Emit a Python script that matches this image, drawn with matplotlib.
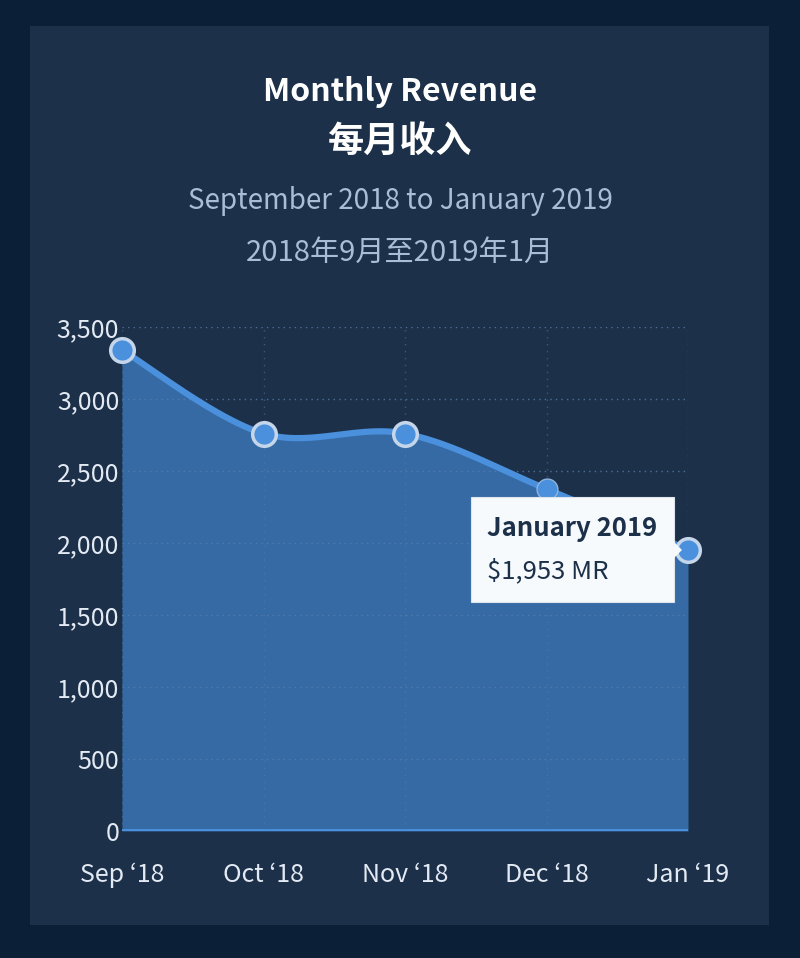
import numpy as np
import matplotlib
matplotlib.use("Agg")
import matplotlib.pyplot as plt
from matplotlib.patches import Rectangle, Polygon

plt.rcParams['font.family'] = ['Noto Sans CJK SC', 'DejaVu Sans']

# data
months = ["Sep \u02bb18", "Oct \u02bb18", "Nov \u02bb18", "Dec \u02bb18", "Jan \u02bb19"]
revenue = [3340, 2760, 2760, 2375, 1953]
y_ticks = [0, 500, 1000, 1500, 2000, 2500, 3000, 3500]

title_en = "Monthly Revenue"
title_zh = "每月收入"
sub_en = "September 2018 to January 2019"
sub_zh = "2018年9月至2019年1月"
tip_title = "January 2019"
tip_value = "$1,953 MR"

outer_bg = '#0b1f37'
panel_bg = '#1c3049'
fill_col = '#356aa5'
line_col = '#4a90dc'
edge_col = '#c6d6ea'
grid_col = '#5a80ad'
text_col = '#e3eaf3'
sub_col = '#a8bdd6'


def catmull_rom(x, y, n=60):
    # uniform catmull-rom through the points, ends duplicated
    px = np.concatenate([[x[0]], x, [x[-1]]])
    py = np.concatenate([[y[0]], y, [y[-1]]])
    xs, ys = [], []
    for i in range(1, len(px) - 2):
        t = np.linspace(0, 1, n)
        for arr, out in ((px, xs), (py, ys)):
            p0, p1, p2, p3 = arr[i - 1], arr[i], arr[i + 1], arr[i + 2]
            out.append(0.5 * ((2 * p1) + (-p0 + p2) * t
                              + (2 * p0 - 5 * p1 + 4 * p2 - p3) * t ** 2
                              + (-p0 + 3 * p1 - 3 * p2 + p3) * t ** 3))
    return np.concatenate(xs), np.concatenate(ys)


fig = plt.figure(figsize=(8, 9.58), dpi=100)
fig.patch.set_facecolor(outer_bg)
fig.patches.append(Rectangle((30 / 800, 33 / 958), 739 / 800, 899 / 958,
                             transform=fig.transFigure, facecolor=panel_bg,
                             edgecolor='none', zorder=-5))

fig.text(0.5, 1 - 92 / 958, title_en, ha='center', va='center', color='white',
         fontsize=23, fontweight='bold')
fig.text(0.5, 1 - 142 / 958, title_zh, ha='center', va='center', color='white',
         fontsize=26, fontweight='bold')
fig.text(0.5, 1 - 201 / 958, sub_en, ha='center', va='center', color=sub_col,
         fontsize=20)
fig.text(0.5, 1 - 253 / 958, sub_zh, ha='center', va='center', color=sub_col,
         fontsize=21)

ax = fig.add_axes([122 / 800, 127 / 958, 566 / 800, 504 / 958])
ax.set_facecolor('none')
x = np.arange(len(months))
sx, sy = catmull_rom(x.astype(float), np.array(revenue, dtype=float))

ax.fill_between(sx, 0, sy, color=fill_col, lw=0, zorder=1)
for v in y_ticks[1:]:
    ax.axhline(v, color=grid_col, lw=1, ls=(0, (1, 3)), alpha=0.8, zorder=2)
for xi in x:
    ax.axvline(xi, color=grid_col, lw=1, ls=(0, (1, 4)), alpha=0.5, zorder=2)
ax.plot(sx, sy, color=line_col, lw=4.5, solid_capstyle='round', zorder=3)
ax.axhline(0, color=line_col, lw=3.5, zorder=3)

for i in x:
    if i == 3:
        ax.plot(x[i], revenue[i], 'o', ms=15, mfc=line_col, mec='#8fb3dd',
                mew=1, clip_on=False, zorder=4)
    else:
        ax.plot(x[i], revenue[i], 'o', ms=17, mfc=line_col, mec=edge_col,
                mew=2.5, clip_on=False, zorder=4)

ax.set_xlim(0, len(months) - 1)
ax.set_ylim(0, 3500)
ax.set_xticks(x)
ax.set_xticklabels(months)
ax.set_yticks(y_ticks)
ax.set_yticklabels([f"{v:,}" for v in y_ticks])
ax.tick_params(axis='both', length=0, colors=text_col, labelsize=18)
ax.tick_params(axis='x', pad=22)
ax.tick_params(axis='y', pad=2)
for s in ax.spines.values():
    s.set_visible(False)

# tooltip
box = Rectangle((471 / 800, 1 - 602 / 958), 203 / 800, 105 / 958,
                transform=fig.transFigure, facecolor='#f7fafc',
                edgecolor='#dde4ec', lw=0.8, zorder=5)
fig.patches.append(box)
arrow = Polygon([(674 / 800, 1 - 542 / 958), (682 / 800, 1 - 550 / 958),
                 (674 / 800, 1 - 558 / 958)], closed=True,
                transform=fig.transFigure, facecolor='#f7fafc',
                edgecolor='none', zorder=5)
fig.patches.append(arrow)
fig.text(487 / 800, 1 - 528 / 958, tip_title, ha='left', va='center',
         color='#1c3049', fontsize=18.5, fontweight='bold', zorder=6)
fig.text(487 / 800, 1 - 571 / 958, tip_value, ha='left', va='center',
         color='#1c3049', fontsize=18.5, zorder=6)

fig.savefig('out.png', dpi=100, facecolor=outer_bg)
